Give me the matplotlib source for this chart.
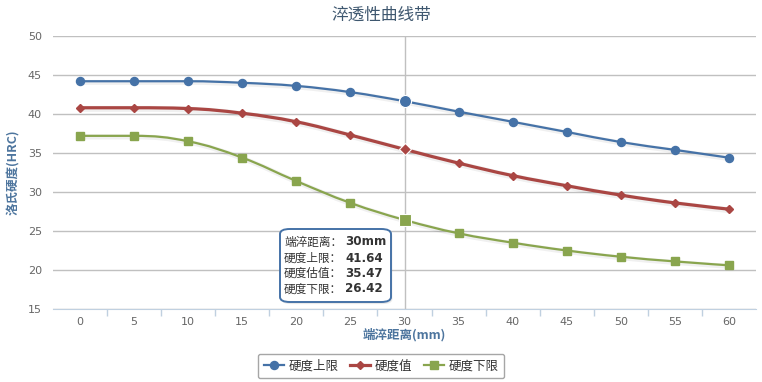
"""Jominy hardenability band chart (淬透性曲线带)."""

import numpy as np
import matplotlib
matplotlib.use("Agg")
import matplotlib.pyplot as plt
import matplotlib.patheffects as pe
from matplotlib.path import Path
from matplotlib.patches import PathPatch, FancyBboxPatch
from matplotlib.lines import Line2D

plt.rcParams["font.family"] = ["DejaVu Sans", "Noto Sans CJK SC"]

# data
distance = [0, 5, 10, 15, 20, 25, 30, 35, 40, 45, 50, 55, 60]
upper = [44.2, 44.2, 44.2, 44.0, 43.6, 42.8, 41.64, 40.3, 39.0, 37.7, 36.4, 35.4, 34.4]
estimate = [40.8, 40.8, 40.7, 40.1, 39.0, 37.3, 35.47, 33.7, 32.1, 30.8, 29.6, 28.6, 27.8]
lower = [37.2, 37.2, 36.5, 34.4, 31.4, 28.6, 26.42, 24.7, 23.5, 22.5, 21.7, 21.1, 20.6]
series_names = ["硬度上限", "硬度值", "硬度下限"]
tip_labels = ["端淬距离", "硬度上限", "硬度估值", "硬度下限"]
hover_idx = 6

W, H = 762, 382
CJK = ["Noto Sans CJK SC", "DejaVu Sans"]


def fx(px):
    return px / W


def fy(py):
    return 1 - py / H


def spline_path(xs, ys, s=1.5):
    """Bezier path through the points, same smoothing as a highcharts spline."""
    n = len(xs)
    left = [(x, y) for x, y in zip(xs, ys)]
    right = list(left)
    for i in range(1, n - 1):
        x, y = xs[i], ys[i]
        lx = (s * x + xs[i - 1]) / (s + 1)
        ly = (s * y + ys[i - 1]) / (s + 1)
        rx = (s * x + xs[i + 1]) / (s + 1)
        ry = (s * y + ys[i + 1]) / (s + 1)
        corr = (ry - ly) * (rx - x) / (rx - lx) + y - ry
        ly += corr
        ry += corr
        lo, hi = min(ys[i - 1], y), max(ys[i - 1], y)
        if ly > hi:
            ly = hi
            ry = 2 * y - ly
        elif ly < lo:
            ly = lo
            ry = 2 * y - ly
        lo, hi = min(ys[i + 1], y), max(ys[i + 1], y)
        if ry > hi:
            ry = hi
            ly = 2 * y - ry
        elif ry < lo:
            ry = lo
            ly = 2 * y - ry
        left[i] = (lx, ly)
        right[i] = (rx, ry)
    verts = [(xs[0], ys[0])]
    codes = [Path.MOVETO]
    for i in range(1, n):
        verts += [right[i - 1], left[i], (xs[i], ys[i])]
        codes += [Path.CURVE4] * 3
    return Path(verts, codes)


fig = plt.figure(figsize=(W / 100, H / 100), dpi=100)
ax = fig.add_axes([fx(53), fy(309), fx(756) - fx(53), fy(36) - fy(309)])

ax.set_xlim(-2.5, 62.5)
ax.set_ylim(15, 50)
ax.set_yticks(range(15, 51, 5))
ax.set_xticks(distance)
ax.set_xticks(np.array(distance[1:]) - 2.5, minor=True)
ax.tick_params(axis="x", which="major", length=0, pad=6, labelsize=8, labelcolor="#666666")
ax.tick_params(axis="x", which="minor", length=5, color="#C0D0E0", width=1)
ax.tick_params(axis="y", length=0, pad=8, labelsize=8, labelcolor="#666666")
ax.grid(axis="y", color="#C0C0C0", lw=1)
ax.set_axisbelow(True)
for side in ("left", "right", "top"):
    ax.spines[side].set_visible(False)
ax.spines["bottom"].set_color("#C0D0E0")

# crosshair at hovered point
ax.axvline(distance[hover_idx], color="#C0C0C0", lw=1, zorder=1)

styles = [
    (upper, "#4572A7", "o", 5.8, 1.6),
    (estimate, "#AA4643", "D", 3.8, 2.3),
    (lower, "#89A54E", "s", 5.6, 1.6),
]
handles = []
for (vals, color, mk, ms, lw), name in zip(styles, series_names):
    patch = PathPatch(spline_path(distance, vals), fill=False, edgecolor=color, lw=lw,
                      zorder=3, capstyle="round", joinstyle="round",
                      path_effects=[pe.SimpleLineShadow(offset=(0.8, -0.8), shadow_color="k",
                                                        alpha=0.06, linewidth=lw + 2),
                                    pe.Normal()])
    ax.add_patch(patch)
    ax.plot(distance, vals, ls="none", marker=mk, ms=ms, color=color, mec=color, zorder=4)
    ax.plot(distance[hover_idx], vals[hover_idx], marker=mk, ms=ms * 1.5,
            color=color, mec="white", mew=0.8, zorder=5)
    handles.append(Line2D([0], [0], color=color, lw=lw, marker=mk, ms=ms))

fig.text(0.5, fy(15), "淬透性曲线带", ha="center", va="center", fontsize=12,
         color="#3E576F", family=CJK)
fig.text(fx(404), fy(335), "端淬距离(mm)", ha="center", va="center", fontsize=9,
         weight="bold", color="#4D759E", family=CJK)
fig.text(fx(14), fy(172), "洛氏硬度(HRC)", ha="center", va="center", fontsize=9,
         weight="bold", color="#4D759E", rotation=90, family=CJK)

# tooltip
box = FancyBboxPatch((fx(280), fy(302)), fx(111), fy(229) - fy(302),
                     boxstyle="round,pad=0,rounding_size=0.013",
                     transform=fig.transFigure, facecolor="white", edgecolor="#4572A7",
                     lw=1.4, zorder=10,
                     path_effects=[pe.SimplePatchShadow(offset=(1, -1.5), alpha=0.12),
                                   pe.Normal()])
fig.add_artist(box)
tip_values = [f"{distance[hover_idx]}mm", f"{upper[hover_idx]:.2f}",
              f"{estimate[hover_idx]:.2f}", f"{lower[hover_idx]:.2f}"]
row_y = [242, 258, 273.5, 289]
for lab, val, py in zip(tip_labels, tip_values, row_y):
    fig.text(fx(284), fy(py), lab + "：", ha="left", va="center", fontsize=8.4,
             color="#333333", family=CJK, zorder=11)
    fig.text(fx(345), fy(py), val, ha="left", va="center", fontsize=8.6, color="#333333",
             weight="bold", zorder=11)

leg = fig.legend(handles, series_names, loc="center", bbox_to_anchor=(fx(381), fy(366)),
                 ncol=3, frameon=True, fancybox=True, edgecolor="#909090",
                 handlelength=1.6, columnspacing=0.9, handletextpad=0.4,
                 borderpad=0.45, prop={"family": CJK, "size": 9})
leg.get_frame().set_linewidth(1)
for t in leg.get_texts():
    t.set_color("#333333")

fig.savefig("out.png", dpi=100)
